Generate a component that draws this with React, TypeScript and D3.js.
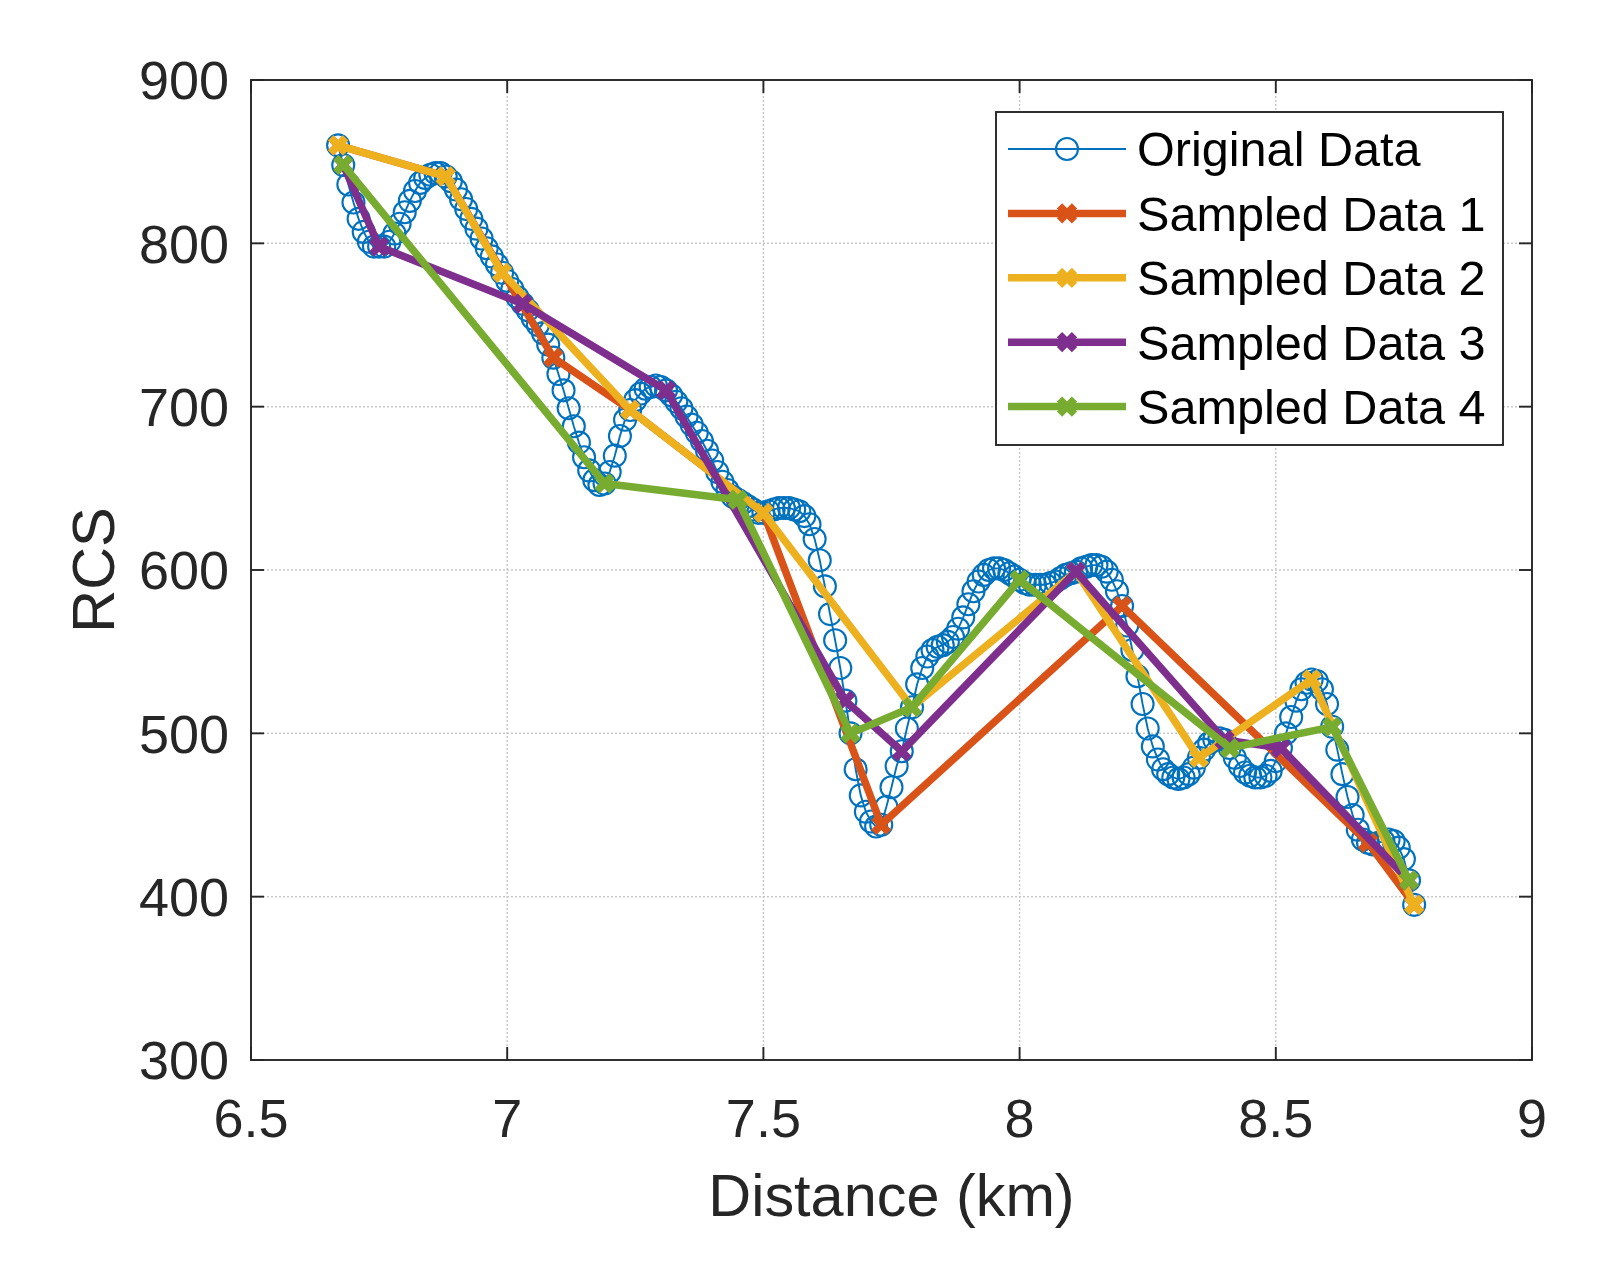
import React from 'react';
import * as d3 from 'd3';

// original RCS trace, one reading every 0.01 km from 6.67 km
const distanceStart = 6.67;
const distanceStep = 0.01;
const originalRcs = [
  860, 848, 836, 825, 815, 807, 801, 798, 798, 798,
  801, 806, 812, 819, 826, 832, 837, 840, 842, 843,
  843, 841, 838, 833, 827, 821, 815, 809, 803, 797,
  792, 787, 782, 777, 772, 767, 763, 759, 754, 750,
  745, 738, 730, 720, 710, 699, 688, 678, 669, 661,
  655, 652, 653, 660, 670, 682, 692, 698, 704, 708,
  711, 712, 713, 712, 710, 707, 703, 699, 694, 689,
  684, 679, 673, 667, 660, 654, 649, 645, 643, 641,
  639, 637, 635, 635, 636, 637, 638, 638, 638, 637,
  636, 633, 628, 619, 606, 590, 573, 557, 540, 520,
  500, 478, 462, 452, 446, 443, 444, 455, 467, 480,
  489, 503, 516, 530, 540, 547, 551, 553, 554, 556,
  559, 564, 571, 579, 587, 593, 597, 600, 601, 601,
  600, 598, 596, 594, 592, 591, 591, 591, 591, 592,
  593, 595, 597, 598, 599, 601, 602, 603, 603, 602,
  599, 594, 587, 578, 566, 551, 535, 518, 503, 492,
  484, 478, 475, 473, 472, 473, 475, 479, 485, 490,
  494, 496, 497, 496, 491, 485, 480, 476, 474, 473,
  473, 474, 477, 483, 491, 500, 510, 520, 527, 531,
  533, 532, 527, 518, 504, 490, 475, 461, 450, 441,
  435, 433, 432, 433, 434, 435, 434, 430, 423, 410,
  395,
];

const sampled1Distance = [6.67, 6.88, 7.09, 7.24, 7.5, 7.73, 8.2, 8.68, 8.77];
const sampled1Rcs = [860, 841, 730, 698, 635, 444, 578, 433, 395];

const sampled2Distance = [6.67, 6.88, 6.99, 7.24, 7.5, 7.79, 8.11, 8.35, 8.57, 8.77];
const sampled2Rcs = [860, 841, 782, 698, 635, 516, 599, 485, 533, 395];

const sampled3Distance = [6.68, 6.75, 7.03, 7.31, 7.66, 7.77, 8.11, 8.4, 8.51, 8.76];
const sampled3Rcs = [848, 798, 763, 710, 520, 489, 599, 496, 491, 410];

const sampled4Distance = [6.68, 7.19, 7.45, 7.67, 7.79, 8.0, 8.41, 8.61, 8.76];
const sampled4Rcs = [848, 653, 643, 500, 516, 594, 491, 504, 410];

const xTicks = [6.5, 7, 7.5, 8, 8.5, 9];
const yTicks = [300, 400, 500, 600, 700, 800, 900];
const seriesNames = ['Original Data', 'Sampled Data 1', 'Sampled Data 2', 'Sampled Data 3', 'Sampled Data 4'];
const seriesColors = ['#0072BD', '#D95319', '#EDB120', '#7E2F8E', '#77AC30'];

const W = 1606;
const H = 1273;
const plot = { left: 251, right: 1532, top: 80, bottom: 1060 };
const axisColor = '#262626';
const font = '"Liberation Sans", Arial, Helvetica, sans-serif';
const tickLen = 13;
const crossPath = 'M-7.5,-7.5L7.5,7.5M-7.5,7.5L7.5,-7.5';

const App: React.FC = () => {
  const x = d3.scaleLinear().domain([6.5, 9]).range([plot.left, plot.right]);
  const y = d3.scaleLinear().domain([300, 900]).range([plot.bottom, plot.top]);

  const original = originalRcs.map((v, i) => ({ d: distanceStart + i * distanceStep, v }));
  const sampled = [
    sampled1Distance.map((d, i) => ({ d, v: sampled1Rcs[i] })),
    sampled2Distance.map((d, i) => ({ d, v: sampled2Rcs[i] })),
    sampled3Distance.map((d, i) => ({ d, v: sampled3Rcs[i] })),
    sampled4Distance.map((d, i) => ({ d, v: sampled4Rcs[i] })),
  ];

  const line = d3.line<{ d: number; v: number }>()
    .x((p) => x(p.d))
    .y((p) => y(p.v));

  // legend geometry
  const lg = { x: 996, y: 112, w: 507, h: 333 };
  const rowY = (i: number) => 149 + i * 64.4;

  return (
    <div style={{ position: 'absolute', left: 0, top: 0 }}>
      <svg width={W} height={H} style={{ display: 'block', background: '#fff' }} fontFamily={font}>
        <rect x={0} y={0} width={W} height={H} fill="#fff" />

        {/* grid */}
        <g stroke="#c8c8c8" strokeWidth={1.5} strokeDasharray="2 2">
          {xTicks.slice(1, -1).map((t) => (
            <line key={`gx${t}`} x1={x(t)} x2={x(t)} y1={plot.top} y2={plot.bottom} />
          ))}
          {yTicks.slice(1, -1).map((t) => (
            <line key={`gy${t}`} x1={plot.left} x2={plot.right} y1={y(t)} y2={y(t)} />
          ))}
        </g>

        {/* original data */}
        <path d={line(original) || ''} fill="none" stroke={seriesColors[0]} strokeWidth={1.9} />
        <g fill="none" stroke={seriesColors[0]} strokeWidth={2.1}>
          {original.map((p, i) => (
            <circle key={i} cx={x(p.d)} cy={y(p.v)} r={11} />
          ))}
        </g>

        {/* sampled series */}
        {sampled.map((s, k) => (
          <g key={k}>
            <path d={line(s) || ''} fill="none" stroke={seriesColors[k + 1]} strokeWidth={7.5} strokeLinejoin="round" />
            {s.map((p, i) => (
              <path key={i} d={crossPath} transform={`translate(${x(p.d)},${y(p.v)})`}
                stroke={seriesColors[k + 1]} strokeWidth={7.5} fill="none" />
            ))}
          </g>
        ))}

        {/* axes box and ticks */}
        <rect x={plot.left} y={plot.top} width={plot.right - plot.left} height={plot.bottom - plot.top}
          fill="none" stroke={axisColor} strokeWidth={1.9} />
        <g stroke={axisColor} strokeWidth={1.9}>
          {xTicks.map((t) => (
            <g key={`tx${t}`}>
              <line x1={x(t)} x2={x(t)} y1={plot.bottom} y2={plot.bottom - tickLen} />
              <line x1={x(t)} x2={x(t)} y1={plot.top} y2={plot.top + tickLen} />
            </g>
          ))}
          {yTicks.map((t) => (
            <g key={`ty${t}`}>
              <line x1={plot.left} x2={plot.left + tickLen} y1={y(t)} y2={y(t)} />
              <line x1={plot.right} x2={plot.right - tickLen} y1={y(t)} y2={y(t)} />
            </g>
          ))}
        </g>

        {/* tick labels */}
        <g fill={axisColor} fontSize={54}>
          {xTicks.map((t) => (
            <text key={`lx${t}`} x={x(t)} y={1137} textAnchor="middle">{String(t)}</text>
          ))}
          {yTicks.map((t) => (
            <text key={`ly${t}`} x={229} y={y(t) + 19.3} textAnchor="end">{String(t)}</text>
          ))}
        </g>

        {/* axis titles */}
        <text x={(plot.left + plot.right) / 2} y={1216} textAnchor="middle" fontSize={59.4} fill={axisColor}>
          Distance (km)
        </text>
        <text transform={`translate(114,${(plot.top + plot.bottom) / 2}) rotate(-90)`} textAnchor="middle"
          fontSize={59.4} fill={axisColor}>
          RCS
        </text>

        {/* legend */}
        <rect x={lg.x} y={lg.y} width={lg.w} height={lg.h} fill="#fff" stroke={axisColor} strokeWidth={1.9} />
        {seriesNames.map((name, i) => (
          <g key={name}>
            <line x1={1008} x2={1126} y1={rowY(i)} y2={rowY(i)} stroke={seriesColors[i]}
              strokeWidth={i === 0 ? 1.9 : 7.5} />
            {i === 0 ? (
              <circle cx={1067} cy={rowY(i)} r={11} fill="none" stroke={seriesColors[0]} strokeWidth={2.1} />
            ) : (
              <path d={crossPath} transform={`translate(1067,${rowY(i)})`} stroke={seriesColors[i]}
                strokeWidth={7.5} fill="none" />
            )}
            <text x={1137} y={rowY(i) + 17.4} fontSize={48.6} fill="#000">{name}</text>
          </g>
        ))}
      </svg>
    </div>
  );
};

export default App;
